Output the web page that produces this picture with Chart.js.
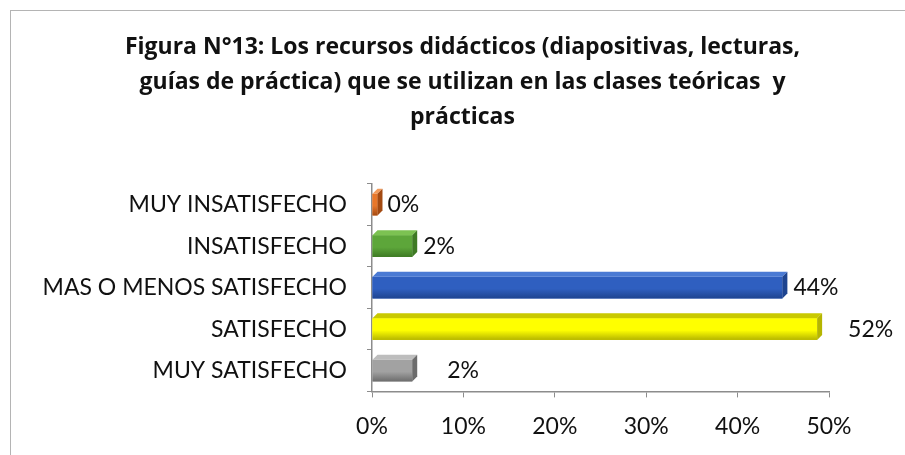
<!DOCTYPE html>
<html>
<head>
<meta charset="utf-8">
<script src="https://cdn.jsdelivr.net/npm/chart.js@4"></script>
<style>
    html, body { margin: 0; padding: 0; background: #ffffff; overflow: hidden; }
    #wrap { position: relative; width: 905px; height: 455px; }
    #frame {
        position: absolute; left: 10px; top: 10px;
        width: 1000px; height: 1000px;
        border: 1px solid #b4b4b4;
    }
    canvas { position: absolute; left: 0; top: 0; }
</style>
</head>
<body>
<div id="wrap">
    <div id="frame"></div>
    <canvas id="chart" width="905" height="455"></canvas>
</div>
<script>
const categories = [
    "MUY INSATISFECHO",
    "INSATISFECHO",
    "MAS O MENOS SATISFECHO",
    "SATISFECHO",
    "MUY SATISFECHO"
];

// bar lengths as drawn in the picture
const barValues = [0.6, 4.4, 44.9, 48.7, 4.4];

// labels printed next to the bars
const barLabels = ["0%", "2%", "44%", "52%", "2%"];

const xTicks = [0, 10, 20, 30, 40, 50];

const titleLines = [
    "Figura N°13: Los recursos didácticos (diapositivas, lecturas,",
    "guías de práctica) que se utilizan en las clases teóricas  y",
    "prácticas"
];

const frontColors = ["#e8772a", "#5da63a", "#2f5fc0", "#ffff00", "#a2a2a2"];
const topColors   = ["#f29a5a", "#7cc252", "#4a7ad4", "#c9c900", "#bdbdbd"];
const sideColors  = ["#a34a12", "#3e7a24", "#1e4490", "#b5b500", "#6c6c6c"];
const labelOffsets = [10, 11, 11, 31, 35];

const DEPTH = 5;

// redraws the front with a shade, then top and side faces for the 3D look
const bar3d = {
    id: "bar3d",
    afterDatasetsDraw(chart)
    {
        const ctx = chart.ctx;
        const meta = chart.getDatasetMeta(0);

        meta.data.forEach((bar, i) =>
        {
            const p = bar.getProps(["x", "y", "base", "height"], true);
            if(!isFinite(p.y) || !isFinite(p.height)) return;
            const top = p.y - p.height / 2;
            const bottom = p.y + p.height / 2;

            ctx.save();

            const g = ctx.createLinearGradient(0, top, 0, bottom);
            g.addColorStop(0, frontColors[i]);
            g.addColorStop(0.55, frontColors[i]);
            g.addColorStop(1, sideColors[i]);
            ctx.fillStyle = g;
            ctx.fillRect(p.base, top, p.x - p.base, p.height);

            ctx.fillStyle = topColors[i];
            ctx.beginPath();
            ctx.moveTo(p.base, top);
            ctx.lineTo(p.x, top);
            ctx.lineTo(p.x + DEPTH, top - DEPTH);
            ctx.lineTo(p.base + DEPTH, top - DEPTH);
            ctx.closePath();
            ctx.fill();

            ctx.fillStyle = sideColors[i];
            ctx.beginPath();
            ctx.moveTo(p.x, top);
            ctx.lineTo(p.x + DEPTH, top - DEPTH);
            ctx.lineTo(p.x + DEPTH, bottom - DEPTH);
            ctx.lineTo(p.x, bottom);
            ctx.closePath();
            ctx.fill();

            ctx.fillStyle = "#111111";
            ctx.font = "23px Lato";
            ctx.textAlign = "left";
            ctx.textBaseline = "middle";
            ctx.fillText(barLabels[i], p.x + labelOffsets[i], p.y);

            ctx.restore();
        });
    }
};

const ctx = document.getElementById("chart").getContext("2d");

new Chart(ctx, {
    type: "bar",
    data: {
        labels: categories,
        datasets: [{
            data: barValues,
            backgroundColor: frontColors,
            borderWidth: 0,
            barPercentage: 0.52,
            categoryPercentage: 1
        }]
    },
    plugins: [bar3d],
    options: {
        indexAxis: "y",
        responsive: false,
        animation: false,
        layout: {
            padding: { left: 20, right: 0, top: 0, bottom: 0 }
        },
        plugins: {
            legend: { display: false },
            tooltip: { enabled: false },
            title: {
                display: true,
                text: titleLines,
                color: "#111111",
                font: { family: "Open Sans", size: 23, weight: "bold", lineHeight: 1.52 },
                padding: { top: 30, bottom: 49 }
            }
        },
        scales: {
            x: {
                min: 0,
                max: 50,
                afterBuildTicks(scale)
                {
                    scale.ticks = xTicks.map(v => ({ value: v }));
                },
                ticks: {
                    color: "#111111",
                    font: { family: "Lato", size: 23 },
                    padding: 15,
                    callback: v => v + "%"
                },
                grid: {
                    drawOnChartArea: false,
                    color: "#8c8c8c",
                    tickLength: 6
                },
                border: { color: "#8c8c8c", width: 1.5 }
            },
            y: {
                afterFit(scale)
                {
                    scale.width = 352;
                },
                ticks: {
                    color: "#111111",
                    font: { family: "Lato", size: 23 },
                    padding: 20
                },
                grid: {
                    offset: true,
                    drawOnChartArea: false,
                    color: "#8c8c8c",
                    tickLength: 5
                },
                border: { color: "#8c8c8c", width: 1.5 }
            },
            // empty axis on the right, only keeps room for the labels
            spacer: {
                type: "linear",
                position: "right",
                afterFit(scale)
                {
                    scale.width = 76;
                },
                ticks: { display: false },
                grid: { display: false },
                border: { display: false }
            }
        }
    }
});
</script>
</body>
</html>
